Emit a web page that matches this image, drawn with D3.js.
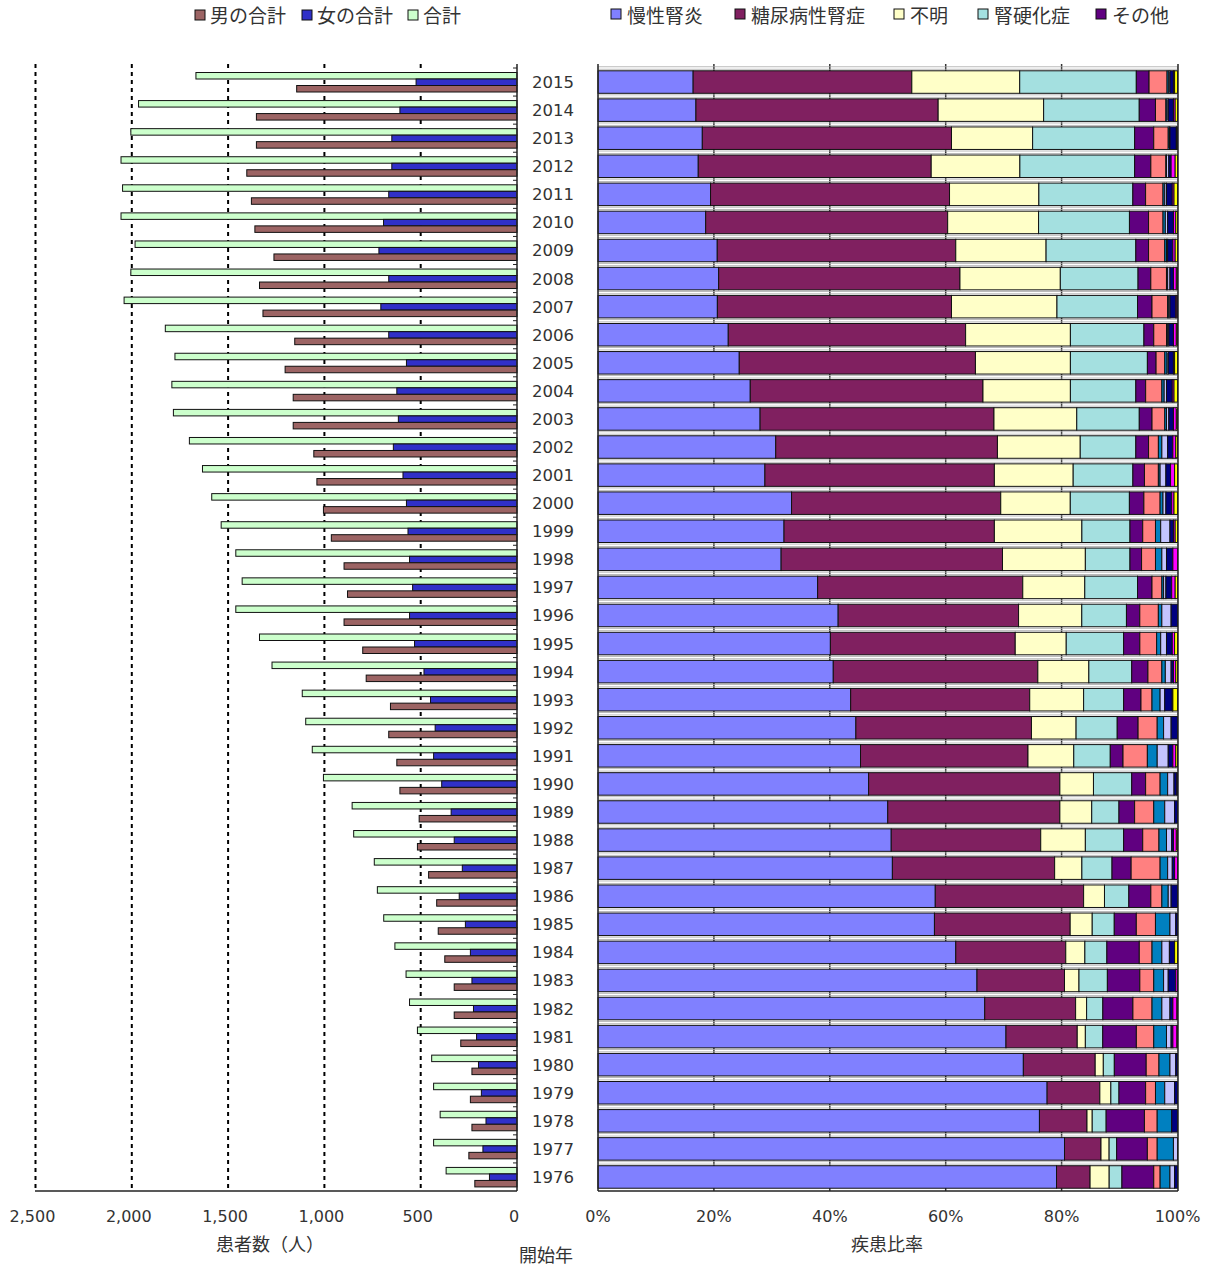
<!DOCTYPE html>
<html><head><meta charset="utf-8">
<script src="https://cdn.jsdelivr.net/npm/d3@7"></script>
<style>
html,body{margin:0;padding:0;background:#fff;}
text{font-family:"Noto Sans CJK JP","Noto Sans",sans-serif;fill:#333;}
text.num{font-family:"DejaVu Sans","Noto Sans",sans-serif;}
</style></head>
<body>
<svg id="chart" width="1213" height="1268"></svg>
<script>
// ---------- DATA ----------
const years = [2015,2014,2013,2012,2011,2010,2009,2008,2007,2006,2005,2004,2003,2002,2001,2000,1999,1998,1997,1996,1995,1994,1993,1992,1991,1990,1989,1988,1987,1986,1985,1984,1983,1982,1981,1980,1979,1978,1977,1976];

const totalCount  = [1667,1965,2005,2056,2048,2056,1983,2005,2040,1826,1776,1792,1784,1701,1633,1585,1536,1460,1427,1460,1337,1272,1115,1097,1063,1005,856,848,741,725,692,634,576,558,517,443,433,399,433,368];
const femaleCount = [524,608,650,650,666,693,717,666,707,666,574,624,616,642,592,574,566,558,542,558,532,483,449,425,433,391,342,326,284,300,268,242,234,226,210,200,185,161,177,143];
const maleCount   = [1144,1353,1353,1403,1379,1361,1262,1337,1319,1154,1204,1162,1162,1055,1039,1005,964,898,880,898,801,783,657,666,624,608,508,517,459,417,409,375,326,326,292,234,242,234,250,219];

const countSeriesNames = ["男の合計","女の合計","合計"];
const countTicks = [2500,2000,1500,1000,500,0];

const diseaseNames = ["慢性腎炎","糖尿病性腎症","不明","腎硬化症","その他","多発性嚢胞腎","慢性腎盂腎炎","急速進行性糸球体腎炎","SLE腎炎","痛風腎","腎・尿路結核"];
const legendDiseaseCount = 5;

const chronicNephritis = [16.4,16.9,18.0,17.3,19.4,18.6,20.6,20.8,20.6,22.5,24.4,26.3,28.0,30.7,28.8,33.4,32.1,31.6,37.9,41.4,40.1,40.6,43.6,44.5,45.3,46.7,50.0,50.6,50.8,58.2,58.0,61.8,65.4,66.8,70.4,73.4,77.5,76.1,80.5,79.2];
const diabeticNephropathy = [37.7,41.8,43.0,40.2,41.2,41.8,41.2,41.6,40.4,41.0,40.8,40.2,40.4,38.3,39.6,36.1,36.3,38.2,35.4,31.1,31.9,35.3,30.9,30.3,28.9,33.0,29.7,25.8,28.0,25.6,23.4,19.0,15.1,15.7,12.3,12.4,9.1,8.2,6.3,5.8];
const unknownCause = [18.6,18.2,14.0,15.3,15.4,15.7,15.6,17.3,18.2,18.1,16.4,15.1,14.3,14.3,13.6,12.0,15.1,14.3,10.7,10.9,8.8,8.8,9.3,7.7,7.9,5.8,5.5,7.7,4.7,3.6,3.8,3.3,2.5,1.9,1.4,1.4,1.9,0.9,1.4,3.3];
const nephrosclerosis = [20.1,16.5,17.6,19.8,16.2,15.7,15.5,13.4,13.9,12.7,13.3,11.3,10.8,9.6,10.3,10.2,8.3,7.7,9.1,7.7,9.9,7.4,6.9,7.1,6.3,6.6,4.7,6.6,5.2,4.2,3.8,3.8,4.9,2.8,3.0,1.9,1.4,2.4,1.3,2.2];
const otherCause = [2.2,2.8,3.3,2.8,2.2,3.3,2.2,2.2,2.5,1.7,1.5,1.7,2.2,2.2,2.0,2.5,2.2,2.0,2.5,2.3,2.8,2.8,3.0,3.6,2.2,2.4,2.7,3.3,3.3,3.8,3.8,5.6,5.6,5.2,5.8,5.5,4.6,6.6,5.3,5.5];
const polycystic = [3.1,1.8,2.5,2.6,3.0,2.5,2.8,2.7,2.7,2.2,1.5,2.8,2.2,1.7,2.4,2.8,2.2,2.4,1.7,3.2,2.9,2.4,1.9,3.3,4.2,2.5,3.3,2.8,5.0,1.9,3.3,2.2,2.4,3.3,3.0,2.2,1.7,2.2,1.7,1.1];
const pyelonephritis = [0.3,0.2,0.2,0.1,0.3,0.4,0.3,0.2,0.2,0.2,0.4,0.4,0.3,0.6,0.3,0.5,0.9,1.1,0.3,0.6,0.7,0.6,1.4,1.1,1.7,1.3,1.9,1.3,1.3,1.1,2.5,1.7,1.7,1.7,2.2,1.9,1.6,2.5,2.8,1.7];
const rpgn = [0.2,0.2,0.1,0.4,0.3,0.4,0.2,0.4,0.2,0.2,0.2,0.4,0.4,1.0,1.0,0.5,1.6,0.8,0.4,1.6,1.0,1.0,0.8,1.3,1.9,1.1,1.7,0.9,0.8,0.5,1.0,1.3,0.8,1.4,0.8,1.0,1.7,0,0.7,0.8];
const sleNephritis = [0.6,0.9,1.1,0.4,1.0,1.0,0.9,0.6,1.0,0.8,0.9,1.0,0.8,0.9,0.8,1.0,0.6,1.1,1.0,1.1,1.0,0.4,1.3,1.1,0.8,0.5,0.5,0.3,0.4,1.1,0.3,0.9,1.3,0.5,0.3,0.3,0.5,1.0,0,0.5];
const goutKidney = [0.2,0.3,0.1,0.7,0.3,0.4,0.4,0.5,0.2,0.5,0.2,0.3,0.5,0.5,0.7,0.4,0.3,0.8,0.6,0,0.4,0.4,0.1,0,0.5,0.1,0,0.5,0.5,0,0,0,0.3,0.7,0.7,0,0,0,0,0];
const tuberculosis = [0.5,0.4,0.1,0.4,0.6,0.3,0.4,0.2,0.1,0.2,0.5,0.6,0.2,0.3,0.5,0.6,0.4,0,0.4,0,0.5,0.3,0.8,0,0.3,0,0,0.2,0,0,0,0.5,0,0.1,0.1,0,0,0,0,0];

const pctTicks = [0,20,40,60,80,100];

// ---------- STYLE ----------
const countColors = {"男の合計":"#9c6464","女の合計":"#3030c8","合計":"#ccffcc"};
const diseaseColors = ["#8080ff","#802060","#ffffc8","#a4e0e0","#600080","#ff8080","#0080c0","#c4c4ff","#000080","#ff00ff","#ffff00"];

const svg = d3.select("#chart");
svg.append("rect").attr("width",1213).attr("height",1268).attr("fill","#fff");

const plotTop = 68, plotBottom = 1191;
const y = d3.scaleBand().domain(years).range([plotTop,plotBottom]).padding(0);
const bw = y.bandwidth();

// ---------- LEFT PANEL ----------
const xL = d3.scaleLinear().domain([0,2500]).range([517,35.5]);
const gL = svg.append("g");
gL.selectAll("line.grid").data(countTicks.filter(d=>d>0)).enter().append("line")
  .attr("x1",d=>xL(d)).attr("x2",d=>xL(d)).attr("y1",64).attr("y2",plotBottom)
  .attr("stroke","#000").attr("stroke-width",2).attr("stroke-dasharray","4,4");

const countSeries = [
  {name:"合計", vals: totalCount, off: 4.5},
  {name:"女の合計", vals: femaleCount, off: 11},
  {name:"男の合計", vals: maleCount, off: 17.5}
];
const barH = 6.5;
countSeries.forEach(s=>{
  gL.selectAll(null).data(years).enter().append("rect")
    .attr("x",(d,i)=>xL(s.vals[i]))
    .attr("width",(d,i)=>xL(0)-xL(s.vals[i]))
    .attr("y",d=>y(d)+s.off).attr("height",barH)
    .attr("fill",countColors[s.name]).attr("stroke","#111").attr("stroke-width",1);
});
gL.append("line").attr("x1",517).attr("x2",517).attr("y1",64).attr("y2",plotBottom).attr("stroke","#222").attr("stroke-width",1.5);
gL.append("line").attr("x1",35).attr("x2",517).attr("y1",plotBottom).attr("y2",plotBottom).attr("stroke","#222").attr("stroke-width",1.5);
gL.selectAll("line.tk").data(years).enter().append("line")
  .attr("x1",513).attr("x2",517).attr("y1",d=>y(d)).attr("y2",d=>y(d)).attr("stroke","#222");
const fmt = d3.format(",");
gL.selectAll("text.tl").data(countTicks).enter().append("text").attr("class","num")
  .attr("x",d=>xL(d)-3).attr("y",1222).attr("text-anchor","middle")
  .attr("font-size",16).text(d=>fmt(d));
svg.append("text").attr("x",270).attr("y",1251).attr("text-anchor","middle").attr("font-size",18).text("患者数（人）");

svg.selectAll("text.yr").data(years).enter().append("text").attr("class","num")
  .attr("x",553).attr("y",d=>y(d)+bw/2+6).attr("text-anchor","middle")
  .attr("font-size",16.5).text(d=>d);
svg.append("text").attr("x",546).attr("y",1262).attr("text-anchor","middle").attr("font-size",18).text("開始年");

// ---------- RIGHT PANEL ----------
const xR = d3.scaleLinear().domain([0,100]).range([598,1177.5]);
const gR = svg.append("g");
gR.selectAll("line.g").data(pctTicks.filter(d=>d>0&&d<100)).enter().append("line")
  .attr("x1",d=>xR(d)).attr("x2",d=>xR(d)).attr("y1",64).attr("y2",plotBottom)
  .attr("stroke","#333").attr("stroke-width",1.5);
gR.selectAll("rect.sep").data(years).enter().append("rect")
  .attr("x",xR(0)).attr("width",xR(100)-xR(0))
  .attr("y",d=>y(d)-1.2).attr("height",2.4).attr("fill","none").attr("stroke","#aaa").attr("stroke-width",0.8);

const diseaseSeries = [chronicNephritis,diabeticNephropathy,unknownCause,nephrosclerosis,otherCause,polycystic,pyelonephritis,rpgn,sleNephritis,goutKidney,tuberculosis];
const rows = years.map((yr,i)=>{
  const o = {year:yr};
  diseaseNames.forEach((n,k)=>o[n]=diseaseSeries[k][i]);
  return o;
});
const stack = d3.stack().keys(diseaseNames).offset(d3.stackOffsetExpand);
const stacked = stack(rows);
const rbOff = 2.8, rbH = 22.5;
stacked.forEach((layer,k)=>{
  gR.selectAll(null).data(layer.filter(d=>d[1]-d[0]>0)).enter().append("rect")
    .attr("x",d=>xR(d[0]*100)).attr("width",d=>xR(d[1]*100)-xR(d[0]*100))
    .attr("y",d=>y(d.data.year)+rbOff).attr("height",rbH)
    .attr("fill",diseaseColors[k]).attr("stroke","#111").attr("stroke-width",1);
});
gR.append("line").attr("x1",598).attr("x2",598).attr("y1",64).attr("y2",plotBottom).attr("stroke","#222").attr("stroke-width",1.5);
gR.append("line").attr("x1",1178).attr("x2",1178).attr("y1",64).attr("y2",plotBottom).attr("stroke","#222").attr("stroke-width",1.5);
gR.append("line").attr("x1",598).attr("x2",1178).attr("y1",plotBottom).attr("y2",plotBottom).attr("stroke","#222").attr("stroke-width",1.5);
gR.selectAll("text.tl").data(pctTicks).enter().append("text").attr("class","num")
  .attr("x",d=>xR(d)).attr("y",1222).attr("text-anchor","middle")
  .attr("font-size",16).text(d=>d+"%");
svg.append("text").attr("x",887).attr("y",1251).attr("text-anchor","middle").attr("font-size",18).text("疾患比率");

// ---------- LEGENDS ----------
const legL = [{n:"男の合計",x:195},{n:"女の合計",x:302},{n:"合計",x:408}];
const lg1 = svg.append("g");
legL.forEach(d=>{
  lg1.append("rect").attr("x",d.x).attr("y",10).attr("width",10).attr("height",10)
    .attr("fill",countColors[d.n]).attr("stroke","#111");
  lg1.append("text").attr("x",d.x+15).attr("y",23).attr("font-size",19).text(d.n);
});
const legRx = [611,735,894,978,1096];
const lg2 = svg.append("g");
diseaseNames.slice(0,legendDiseaseCount).forEach((n,k)=>{
  lg2.append("rect").attr("x",legRx[k]).attr("y",9).attr("width",10).attr("height",10)
    .attr("fill",diseaseColors[k]).attr("stroke","#111");
  lg2.append("text").attr("x",legRx[k]+16).attr("y",22.5).attr("font-size",19).text(n);
});
</script>
</body></html>
